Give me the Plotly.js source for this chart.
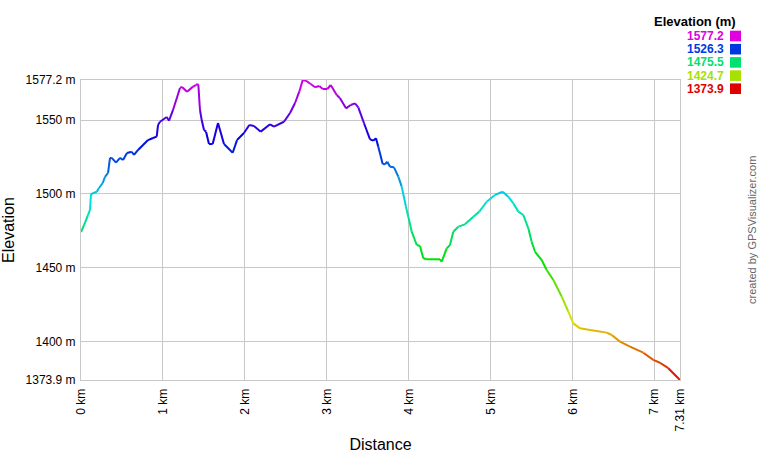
<!DOCTYPE html>
<html>
<head>
<meta charset="utf-8">
<script src="https://cdn.plot.ly/plotly-3.0.1.min.js"></script>
<style>html,body{margin:0;padding:0;background:#fff;}#chart{width:760px;height:460px;}</style>
</head>
<body>
<div id="chart"></div>
<script>
// ---- data ----
const distanceKm = [0, 0.037, 0.085, 0.110, 0.122, 0.192, 0.220, 0.265, 0.293, 0.330, 0.354, 0.375, 0.427, 0.476, 0.513, 0.561, 0.619, 0.647, 0.696, 0.818, 0.879, 0.924, 0.940, 0.964, 1.046, 1.074, 1.123, 1.208, 1.233, 1.294, 1.367, 1.403, 1.424, 1.432, 1.452, 1.473, 1.501, 1.526, 1.562, 1.607, 1.672, 1.745, 1.851, 1.904, 1.989, 2.054, 2.111, 2.193, 2.307, 2.355, 2.477, 2.551, 2.612, 2.664, 2.706, 2.746, 2.803, 2.856, 2.908, 2.950, 3.006, 3.047, 3.121, 3.161, 3.234, 3.291, 3.344, 3.384, 3.454, 3.527, 3.567, 3.600, 3.628, 3.682, 3.710, 3.738, 3.771, 3.820, 3.872, 3.914, 3.966, 3.994, 4.036, 4.097, 4.137, 4.177, 4.219, 4.381, 4.402, 4.463, 4.503, 4.543, 4.605, 4.686, 4.788, 4.861, 4.951, 5.052, 5.146, 5.215, 5.276, 5.337, 5.398, 5.459, 5.500, 5.541, 5.622, 5.683, 5.764, 5.867, 5.947, 6.008, 6.090, 6.212, 6.416, 6.477, 6.578, 6.700, 6.862, 6.984, 7.066, 7.167, 7.31];
const elevationM = [1474.2, 1478.9, 1485.7, 1489.1, 1499.9, 1501.5, 1504.0, 1507.4, 1511.5, 1514.2, 1524.4, 1524.4, 1521.2, 1524.4, 1523.0, 1527.7, 1528.6, 1526.4, 1529.8, 1536.5, 1537.9, 1538.8, 1546.7, 1548.9, 1552.1, 1549.6, 1556.9, 1571.8, 1572.5, 1569.3, 1572.7, 1573.8, 1574.5, 1573.8, 1556.9, 1550.1, 1543.3, 1542.2, 1533.8, 1533.8, 1548.1, 1533.8, 1527.9, 1536.5, 1541.3, 1546.7, 1546.0, 1542.2, 1547.2, 1545.6, 1548.9, 1554.8, 1561.6, 1569.3, 1577.2, 1576.7, 1574.5, 1572.3, 1573.1, 1571.1, 1571.1, 1573.8, 1567.0, 1564.8, 1558.0, 1560.3, 1561.4, 1558.7, 1547.9, 1537.0, 1536.1, 1537.7, 1532.0, 1520.3, 1520.1, 1521.8, 1518.4, 1518.0, 1511.7, 1504.9, 1491.3, 1484.6, 1474.4, 1465.4, 1464.7, 1456.4, 1455.7, 1455.7, 1454.1, 1463.1, 1465.4, 1474.4, 1477.8, 1479.4, 1484.6, 1488.0, 1494.7, 1499.3, 1501.5, 1498.1, 1493.6, 1488.0, 1485.7, 1476.7, 1467.6, 1460.8, 1455.2, 1448.4, 1441.7, 1430.4, 1420.2, 1412.3, 1408.9, 1407.8, 1406.0, 1404.4, 1399.9, 1396.5, 1392.4, 1387.5, 1385.6, 1381.9, 1373.9];
const xTickVals = [0, 1, 2, 3, 4, 5, 6, 7, 7.31];
const xTickText = ["0 km", "1 km", "2 km", "3 km", "4 km", "5 km", "6 km", "7 km", "7.31 km"];
const yTickVals = [1373.9, 1400, 1450, 1500, 1550, 1577.2];
const yTickText = ["1373.9 m", "1400 m", "1450 m", "1500 m", "1550 m", "1577.2 m"];
const legendValues = [1577.2, 1526.3, 1475.5, 1424.7, 1373.9];
const legendLabels = ["1577.2", "1526.3", "1475.5", "1424.7", "1373.9"];

// ---- colours ----
const eMin = 1373.9, eMax = 1577.2;
function elevColor(e) {
  const h = 300 * (e - eMin) / (eMax - eMin);
  return 'hsl(' + h.toFixed(1) + ',100%,44%)';
}

// ---- traces: one segment per consecutive pair, coloured by elevation ----
const traces = [];
for (let i = 0; i < distanceKm.length - 1; i++) {
  traces.push({
    type: 'scatter', mode: 'lines',
    x: [distanceKm[i], distanceKm[i + 1]],
    y: [elevationM[i], elevationM[i + 1]],
    line: {color: elevColor((elevationM[i] + elevationM[i + 1]) / 2), width: 2},
    hoverinfo: 'skip', showlegend: false, cliponaxis: false
  });
}

// ---- layout helpers (pixel -> paper) ----
const L = 81, R = 80, T = 80, B = 80, W = 760, H = 460;
const pw = W - L - R, ph = H - T - B;
const px = x => (x - L) / pw;
const py = y => (H - B - y) / ph;

const font = 'Arial, "Liberation Sans", sans-serif';
const annotations = [];
const shapes = [];
annotations.push({xref: 'paper', yref: 'paper', x: px(738), y: py(22), xanchor: 'right', yanchor: 'middle',
  text: '<b>Elevation (m)</b>', showarrow: false, font: {family: font, size: 13, color: '#000'}});
const rowY = [36, 49.2, 62.4, 75.6, 88.7];
legendValues.forEach((v, i) => {
  const c = elevColor(v);
  annotations.push({xref: 'paper', yref: 'paper', x: px(726), y: py(rowY[i]), xanchor: 'right', yanchor: 'middle',
    text: '<b>' + legendLabels[i] + '</b>', showarrow: false, font: {family: font, size: 12, color: c}});
  shapes.push({type: 'rect', xref: 'paper', yref: 'paper', x0: px(730), x1: px(741),
    y0: py(rowY[i] + 5.3), y1: py(rowY[i] - 5.3), fillcolor: c, line: {width: 0}});
});
annotations.push({xref: 'paper', yref: 'paper', x: px(752), y: py(230), xanchor: 'center', yanchor: 'middle',
  text: 'created by GPSVisualizer.com', textangle: -90, showarrow: false, font: {family: font, size: 11, color: '#666'}});

const layout = {
  width: W, height: H, autosize: false,
  margin: {l: L, r: R, t: T, b: B, pad: 0},
  paper_bgcolor: '#fff', plot_bgcolor: '#fff',
  showlegend: false,
  font: {family: font, size: 12, color: '#000'},
  xaxis: {
    range: [0, 7.31], tickvals: xTickVals, ticktext: xTickText, tickangle: -90,
    showgrid: true, gridcolor: '#c8c8c8', gridwidth: 1, zeroline: false,
    showline: true, linecolor: '#c8c8c8', linewidth: 1, mirror: true,
    ticks: 'outside', ticklen: 3, tickcolor: 'rgba(0,0,0,0)',
    tickfont: {family: font, size: 12, color: '#000'},
    title: {text: 'Distance', font: {family: font, size: 16, color: '#000'}, standoff: 8}
  },
  yaxis: {
    range: [1373.9, 1577.2], tickvals: yTickVals, ticktext: yTickText,
    showgrid: true, gridcolor: '#c8c8c8', gridwidth: 1, zeroline: false,
    showline: true, linecolor: '#c8c8c8', linewidth: 1, mirror: true,
    ticks: 'outside', ticklen: 2, tickcolor: 'rgba(0,0,0,0)',
    tickfont: {family: font, size: 12, color: '#000'},
    title: {text: 'Elevation', font: {family: font, size: 16, color: '#000'}, standoff: 9}
  },
  annotations: annotations,
  shapes: shapes
};

Plotly.newPlot('chart', traces, layout, {displayModeBar: false, staticPlot: true});
</script>
</body>
</html>
